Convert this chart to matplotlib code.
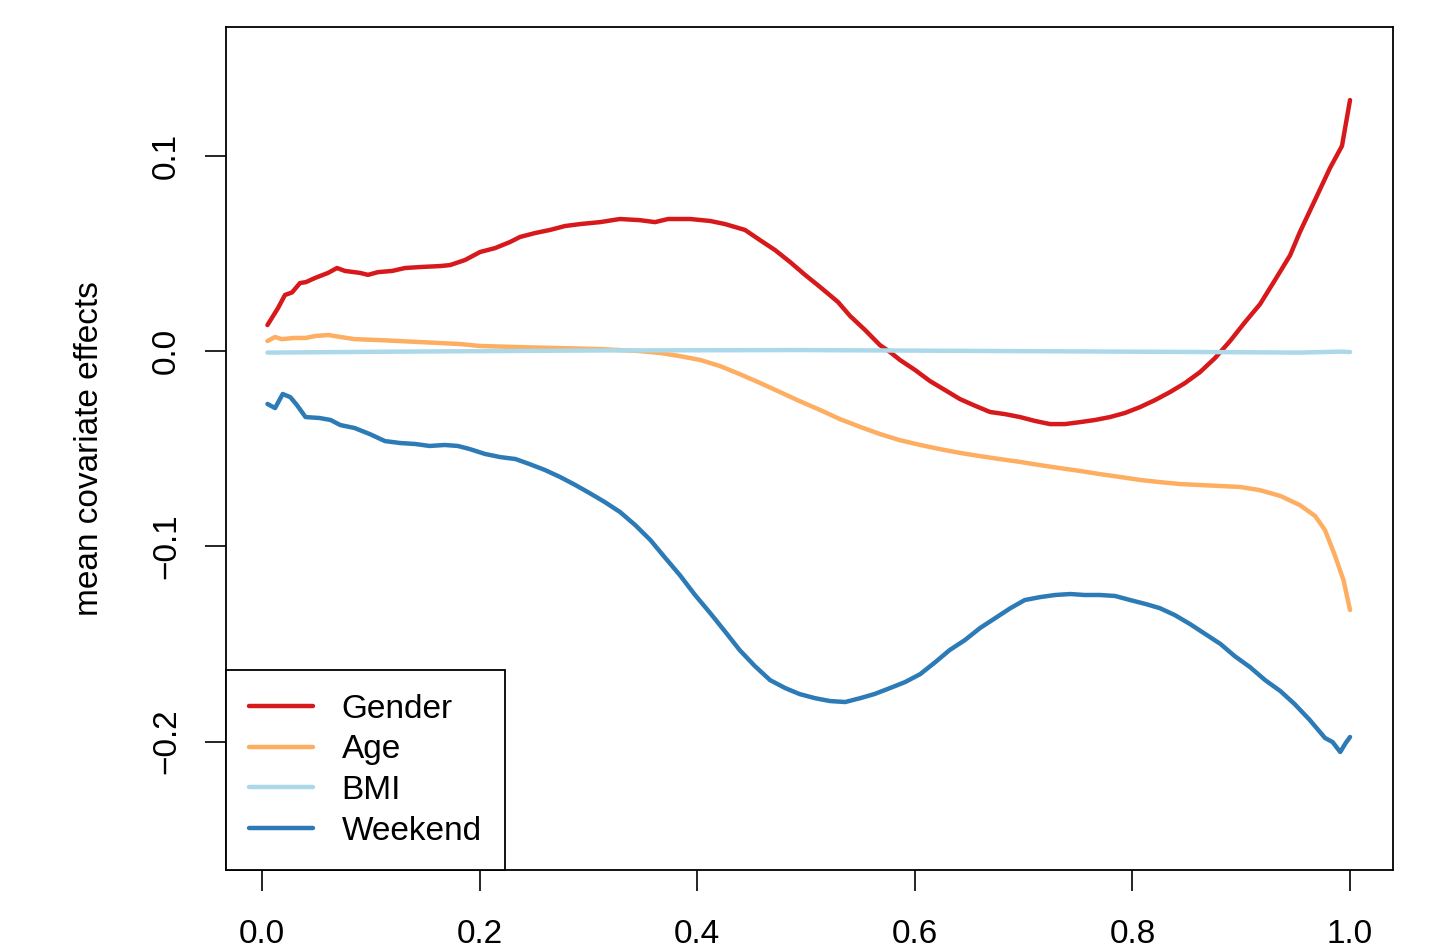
import matplotlib
matplotlib.use("Agg")
import matplotlib.pyplot as plt

plt.rcParams['font.family'] = ['Liberation Sans', 'DejaVu Sans']

# values
gender_x = [0.005, 0.0147, 0.0211, 0.0276, 0.0349, 0.0404, 0.0487, 0.0607, 0.0689, 0.0763,
            0.0901, 0.0974, 0.1066, 0.1195, 0.1314, 0.1452, 0.1636, 0.1728, 0.1866, 0.2004,
            0.2142, 0.2279, 0.2371, 0.2509, 0.2647, 0.2785, 0.2923, 0.3107, 0.329, 0.3474,
            0.3612, 0.3732, 0.3934, 0.4118, 0.4256, 0.4439, 0.4577, 0.4715, 0.4853, 0.4991,
            0.5129, 0.5294, 0.5404, 0.5542, 0.568, 0.5772, 0.5864, 0.6002, 0.614, 0.6278,
            0.6415, 0.6553, 0.6691, 0.6829, 0.6967, 0.7105, 0.7243, 0.738, 0.7518, 0.7656,
            0.7794, 0.7932, 0.807, 0.8208, 0.8346, 0.8483, 0.8621, 0.8759, 0.8897, 0.9035,
            0.9173, 0.9311, 0.9449, 0.954, 0.9678, 0.9816, 0.9926, 1.0]
gender = [0.0133, 0.022, 0.0287, 0.030, 0.0348, 0.0353, 0.0374, 0.040, 0.0425, 0.041,
          0.040, 0.039, 0.0404, 0.041, 0.0425, 0.043, 0.0435, 0.044, 0.0466, 0.0507,
          0.0527, 0.0558, 0.0584, 0.0604, 0.062, 0.064, 0.065, 0.066, 0.0676, 0.067,
          0.066, 0.0676, 0.0676, 0.0666, 0.065, 0.062, 0.0568, 0.0517, 0.0456, 0.039,
          0.0328, 0.0251, 0.018, 0.0108, 0.003, -0.0005, -0.0046, -0.0097, -0.0154, -0.020,
          -0.0246, -0.028, -0.0312, -0.0323, -0.0338, -0.0358, -0.0374, -0.0374, -0.0364, -0.0353,
          -0.0338, -0.0317, -0.0287, -0.0251, -0.021, -0.0164, -0.0108, -0.0036, 0.0051, 0.0148,
          0.024, 0.0364, 0.049, 0.061, 0.0773, 0.0937, 0.105, 0.1285]

age_x = [0.005, 0.012, 0.018, 0.030, 0.040, 0.049, 0.061, 0.072, 0.085, 0.108,
         0.145, 0.182, 0.200, 0.237, 0.274, 0.311, 0.329, 0.347, 0.366, 0.384,
         0.403, 0.421, 0.439, 0.458, 0.476, 0.494, 0.513, 0.531, 0.550, 0.568,
         0.586, 0.605, 0.623, 0.642, 0.660, 0.678, 0.697, 0.715, 0.733, 0.752,
         0.770, 0.789, 0.807, 0.825, 0.844, 0.862, 0.881, 0.899, 0.917, 0.936,
         0.954, 0.968, 0.977, 0.986, 0.994, 1.0]
age = [0.0051, 0.0072, 0.0061, 0.0067, 0.0067, 0.0077, 0.0082, 0.0072, 0.0061, 0.0056,
       0.0046, 0.0036, 0.0026, 0.002, 0.0015, 0.001, 0.0005, 0.0, -0.001, -0.0026,
       -0.0046, -0.0077, -0.0118, -0.0164, -0.021, -0.0256, -0.0302, -0.0348, -0.0389, -0.0425,
       -0.0456, -0.0481, -0.0502, -0.0522, -0.0538, -0.0553, -0.0568, -0.0584, -0.0599, -0.0614,
       -0.063, -0.0645, -0.066, -0.0671, -0.0681, -0.0686, -0.0691, -0.0696, -0.0712, -0.0742,
       -0.0789, -0.0845, -0.0917, -0.1045, -0.1173, -0.1326]

bmi_x = [0.005, 0.127, 0.311, 0.494, 0.678, 0.862, 0.954, 0.991, 1.0]
bmi = [-0.0008, -0.0003, 0.0003, 0.0005, 0.0, -0.0005, -0.0008, -0.0003, -0.0005]

weekend_x = [0.005, 0.012, 0.019, 0.026, 0.032, 0.040, 0.053, 0.063, 0.072, 0.085,
             0.099, 0.113, 0.127, 0.141, 0.154, 0.168, 0.180, 0.191, 0.205, 0.219,
             0.233, 0.246, 0.260, 0.274, 0.288, 0.301, 0.315, 0.329, 0.343, 0.357,
             0.370, 0.384, 0.398, 0.412, 0.426, 0.439, 0.453, 0.467, 0.481, 0.494,
             0.508, 0.522, 0.536, 0.550, 0.563, 0.577, 0.591, 0.605, 0.619, 0.632,
             0.646, 0.660, 0.674, 0.688, 0.701, 0.715, 0.729, 0.743, 0.756, 0.770,
             0.784, 0.798, 0.812, 0.825, 0.839, 0.853, 0.867, 0.881, 0.894, 0.908,
             0.922, 0.936, 0.949, 0.963, 0.977, 0.984, 0.991, 0.996, 1.0]
weekend = [-0.0271, -0.0292, -0.022, -0.0236, -0.0276, -0.0338, -0.0343, -0.0353, -0.0379, -0.0394,
           -0.0425, -0.0461, -0.0471, -0.0476, -0.0486, -0.0481, -0.0486, -0.0502, -0.0527, -0.0543,
           -0.0553, -0.0579, -0.0609, -0.0645, -0.0686, -0.0727, -0.0773, -0.0824, -0.0891, -0.0968,
           -0.1055, -0.1147, -0.1249, -0.1342, -0.1439, -0.1531, -0.1613, -0.1685, -0.1726, -0.1756,
           -0.1777, -0.1792, -0.1797, -0.1777, -0.1756, -0.1726, -0.1695, -0.1654, -0.1592, -0.1531,
           -0.148, -0.1418, -0.1367, -0.1316, -0.1275, -0.126, -0.1249, -0.1244, -0.1249, -0.1249,
           -0.1254, -0.1275, -0.1295, -0.1316, -0.1352, -0.1398, -0.1449, -0.15, -0.1562, -0.1618,
           -0.1685, -0.1741, -0.1807, -0.1889, -0.1981, -0.2002, -0.2053, -0.2007, -0.1976]

labels = ["Gender", "Age", "BMI", "Weekend"]
colors = ["#D7191C", "#FDAE61", "#ABD9E9", "#2C7BB6"]

x_ticks = [0.0, 0.2, 0.4, 0.6, 0.8, 1.0]
y_ticks = [-0.2, -0.1, 0.0, 0.1]

fig = plt.figure(figsize=(14.4, 9.52), dpi=100)
ax = fig.add_axes([226 / 1440, 82 / 952, 1167 / 1440, 843 / 952])

series = [(gender_x, gender), (age_x, age), (bmi_x, bmi), (weekend_x, weekend)]
for (xs, ys), lab, col in zip(series, labels, colors):
    ax.plot(xs, ys, color=col, lw=3.2, label=lab, solid_joinstyle="round", solid_capstyle="round")

ax.set_xlim(-0.0331, 1.0395)
ax.set_ylim(-0.2657, 0.1659)
ax.set_xticks(x_ticks)
ax.set_xticklabels(["%.1f" % t for t in x_ticks])
ax.set_yticks(y_ticks)
ax.set_yticklabels(["\u22120.2", "\u22120.1", "0.0", "0.1"], rotation=90, va="center")
ax.tick_params(axis="both", length=15, width=1.2, labelsize=24, color="black")
ax.tick_params(axis="x", pad=20)
ax.tick_params(axis="y", pad=16.5)
for s in ax.spines.values():
    s.set_linewidth(1.3)

ax.set_ylabel("mean covariate effects", fontsize=24, labelpad=33)

leg = ax.legend(loc="lower left", bbox_to_anchor=(0, 0), borderaxespad=0, fontsize=24,
                fancybox=False, framealpha=1, edgecolor="black", handlelength=1.9,
                handletextpad=0.87, labelspacing=0.29, borderpad=0.7)
leg.get_frame().set_linewidth(1.3)

fig.savefig("out.png", dpi=100)
